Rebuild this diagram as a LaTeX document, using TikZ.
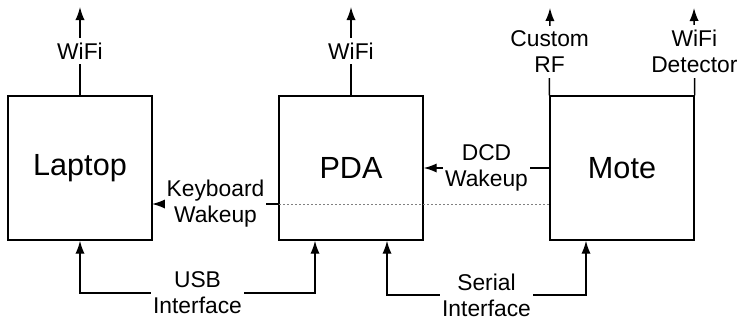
\documentclass[tikz,border=0pt]{standalone}
\usepackage{fontspec}
\setmainfont{Liberation Sans}
\usetikzlibrary{arrows.meta}
\tikzset{
	unit/.style     = {draw, rectangle, minimum height = 72pt,
		minimum width = 72pt, font = \fontsize{15.3}{18}\selectfont},
	sig/.style      = {fill = white, inner xsep = 1pt, inner ysep = 2.5pt,
		align = center, font = \fontsize{11.4}{13}\selectfont},
	wake/.style     = {draw = gray, line width = 0.5pt, dash pattern = on 1pt off 1pt}
}

\begin{document}
\begin{tikzpicture}[line width = 0.7pt, >={Latex[length=6.5pt,width=4.6pt]}, x = 0.5pt, y = -0.5pt]
	\useasboundingbox (0,0) rectangle (737,322);
	\draw
	% the three devices
	node at (80,168)[unit] (lap) {Laptop}
	node at (351,168)[unit] (pda) {PDA}
	node at (622,168)[unit] (mote) {Mote};
	
	\coordinate (lapair) at (80,7);
	\coordinate (pdaair) at (351,7);
	\coordinate (rf) at (550,8);
	\coordinate (det) at (694,8);
	\coordinate (kbl) at (152,204);
	\coordinate (kb) at (279,204);
	\coordinate (kbr) at (550,204);
	\coordinate (usbl) at (80,293);
	\coordinate (usbr) at (315,293);
	\coordinate (serl) at (387,295);
	\coordinate (serr) at (586,295);
	
	\draw[->](lap) -- node[sig] {WiFi} (lapair);
	\draw[->](pda) -- node[sig] {WiFi} (pdaair);
	\draw[->](mote.north west) -- node[sig] {Custom\\RF} (rf);
	\draw[->](mote.north east) -- node[sig] {WiFi\\Detector} (det);
	\draw[->](mote) -- node[sig] {DCD\\Wakeup} (pda);
	\draw[->](kb) -- node[sig] {Keyboard\\Wakeup} (kbl);
	\draw[wake](kb) -- (kbr);
	\draw[<->](lap) -- (usbl) -- node[sig] {USB\\Interface} (usbr) -- (usbr |- pda.south);
	\draw[<->](serl |- pda.south) -- (serl) -- node[sig] {Serial\\Interface} (serr) -- (serr |- mote.south);
	
\end{tikzpicture}
\end{document}
